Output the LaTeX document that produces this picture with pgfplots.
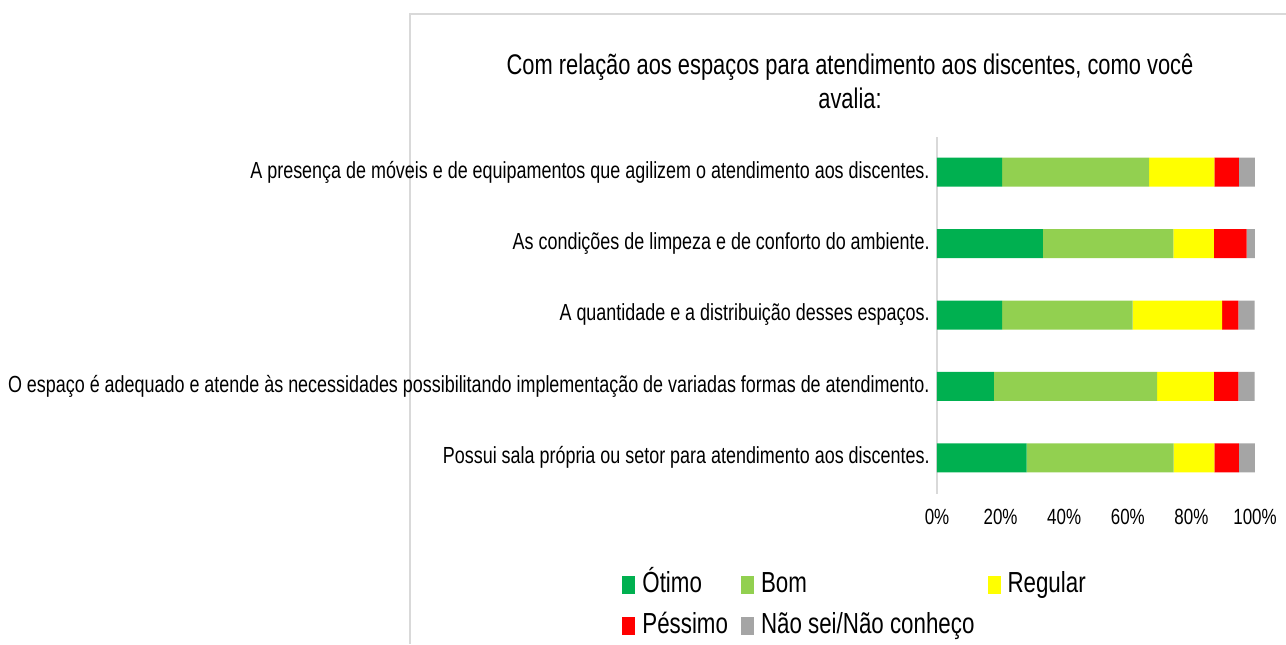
\documentclass[border=0pt]{standalone}
\usepackage{fontspec}
\setmainfont[FakeStretch=0.77]{Liberation Sans}
\usepackage{pgfplots}
\pgfplotsset{compat=1.18}
\definecolor{cOt}{HTML}{00B050}
\definecolor{cBom}{HTML}{92D050}
\definecolor{cReg}{HTML}{FFFF00}
\definecolor{cPes}{HTML}{FF0000}
\definecolor{cNs}{HTML}{A5A5A5}
\definecolor{cBorder}{HTML}{D9D9D9}
\begin{document}
\begin{tikzpicture}
\useasboundingbox (0,0) rectangle (643pt,322pt);
\draw[cBorder, line width=0.8pt] (205pt,0pt) -- (205pt,315pt) -- (650pt,315pt);
\node[align=center, font=\fontsize{14.2}{17}\selectfont, inner sep=0pt] at (425pt,281.5pt) {Com relação aos espaços para atendimento aos discentes, como você\\avalia:};
\begin{axis}[
  at={(468.5pt,75.25pt)}, anchor=south west,
  scale only axis, width=159pt, height=178.5pt,
  xbar stacked, bar width=14.5pt,
  xmin=0, xmax=100, ymin=-0.5, ymax=4.5,
  axis lines*=left,
  x axis line style={draw=none},
  y axis line style={draw=cBorder, line width=0.8pt, -},
  major tick length=0pt,
  xtick={0,20,40,60,80,100},
  xticklabel={\pgfmathprintnumber{\tick}\%},
  /pgf/number format/assume math mode=true,
  xticklabel style={font=\fontsize{11}{13}\selectfont, yshift=-4.5pt},
  ytick={0,1,2,3,4},
  yticklabels={Possui sala própria ou setor para atendimento aos discentes.,
    O espaço é adequado e atende às necessidades possibilitando implementação de variadas formas de atendimento.,
    A quantidade e a distribuição desses espaços.,
    As condições de limpeza e de conforto do ambiente.,
    A presença de móveis e de equipamentos que agilizem o atendimento aos discentes.},
  yticklabel style={font=\fontsize{11.65}{13}\selectfont, anchor=east, inner sep=0pt, xshift=-3.5pt},
  legend columns=3,
  legend cell align=left,
  legend style={draw=none, inner sep=0pt, at={(-0.9906,-0.2087)}, anchor=north west,
    font=\fontsize{14.5}{16}\selectfont, row sep=4pt,
    /tikz/every even column/.append style={column sep=3pt},
    nodes={inner ysep=1.5pt, inner xsep=3.5pt, text height=10.5pt, text depth=3pt}},
  legend image code/.code={\fill[#1] (0pt,-4.5pt) rectangle (6.5pt,4.5pt);},
]
\addplot[fill=cOt, draw=none] coordinates {(28.2,0) (17.9,1) (20.5,2) (33.3,3) (20.5,4)};
\addplot[fill=cBom, draw=none] coordinates {(46.2,0) (51.3,1) (41.0,2) (41.0,3) (46.2,4)};
\addplot[fill=cReg, draw=none] coordinates {(12.8,0) (17.9,1) (28.2,2) (12.8,3) (20.5,4)};
\addplot[fill=cPes, draw=none] coordinates {(7.7,0) (7.7,1) (5.1,2) (10.3,3) (7.7,4)};
\addplot[fill=cNs, draw=none] coordinates {(5.1,0) (5.1,1) (5.1,2) (2.6,3) (5.1,4)};
\legend{Ótimo, Bom, Regular, Péssimo, Não sei/Não conheço}
\end{axis}
\end{tikzpicture}
\end{document}
